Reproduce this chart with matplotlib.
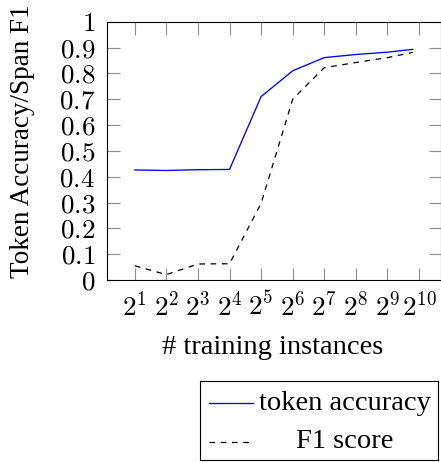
import numpy as np
import matplotlib
matplotlib.use("Agg")
import matplotlib.pyplot as plt
import matplotlib.ticker as mticker
from matplotlib.lines import Line2D

# ── Data ───────────────────────────────────────────────────────────────
n_train = [2, 4, 8, 16, 32, 64, 128, 256, 512, 890]
token_acc = [0.426, 0.424, 0.427, 0.428, 0.710, 0.810, 0.861, 0.873, 0.882, 0.893]
span_f1 = [0.055, 0.021, 0.062, 0.063, 0.297, 0.700, 0.822, 0.842, 0.861, 0.881]
x_tick_exps = list(range(1, 11))
y_ticks = [round(0.1 * i, 1) for i in range(11)]

series_labels = ["token accuracy", "F1 score"]

# ── Style ──────────────────────────────────────────────────────────────
SERIF = "Liberation Serif"
LABEL_SIZE = 20.5
YLABEL_SIZE = 19.5
TICK_SIZE = 19.5
BLUE = "#0000ff"
DASH = (0, (4.5, 4.5))

plt.rcParams.update({
    "font.family": SERIF,
    "mathtext.fontset": "cm",
    "axes.linewidth": 0.8,
})

fig = plt.figure(figsize=(4.41, 4.62), dpi=100)
ax = fig.add_axes([107 / 441, 182 / 462, 333.5 / 441, 258.3 / 462])

ax.plot(n_train, token_acc, color=BLUE, lw=0.95, label=series_labels[0])
ax.plot(n_train, span_f1, color="black", lw=0.9, linestyle=DASH,
        label=series_labels[1])

ax.set_xscale("log", base=2)
ax.set_xlim(2 ** 0.12, 2 ** 10.68)
ax.set_ylim(0, 1)
ax.set_xticks([2 ** e for e in x_tick_exps])
ax.xaxis.set_minor_locator(mticker.NullLocator())
ax.xaxis.set_major_formatter(
    mticker.FuncFormatter(lambda v, _: rf"$2^{{{int(round(np.log2(v)))}}}$"))
ax.set_yticks(y_ticks)
ax.yaxis.set_major_formatter(mticker.FuncFormatter(lambda v, _: f"${v:g}$"))

ax.tick_params(axis="both", which="major", direction="in", length=9,
               width=0.8, color="#8c8c8c", top=True, right=True,
               labelsize=TICK_SIZE)
ax.tick_params(axis="y", pad=8.5)
ax.tick_params(axis="x", pad=8.5)

ax.set_xlabel("# training instances", fontsize=LABEL_SIZE)
ax.set_ylabel("Token Accuracy/Span F1", fontsize=YLABEL_SIZE)
ax.xaxis.set_label_coords(0.496, -0.213)
ax.yaxis.set_label_coords(-0.215, 0.537)

# ── Legend box below the plot (pgfplots style, centred labels) ────────
lax = fig.add_axes([200 / 441, 2 / 462, 238 / 441, 79 / 462])
lax.set_xlim(0, 1)
lax.set_ylim(0, 1)
lax.set_xticks([])
lax.set_yticks([])
for s in lax.spines.values():
    s.set_linewidth(0.8)
rows_y = [0.72, 0.23]
styles = ["-", DASH]
for line, ls, lbl, yy in zip(ax.get_lines(), styles, series_labels, rows_y):
    lax.add_line(Line2D([0.038, 0.223], [yy, yy], color=line.get_color(),
                        lw=line.get_linewidth(), linestyle=ls))
    lax.text(0.61, yy, lbl, ha="center", va="center", fontsize=LABEL_SIZE)

fig.savefig("out.png", dpi=100, facecolor="white")
